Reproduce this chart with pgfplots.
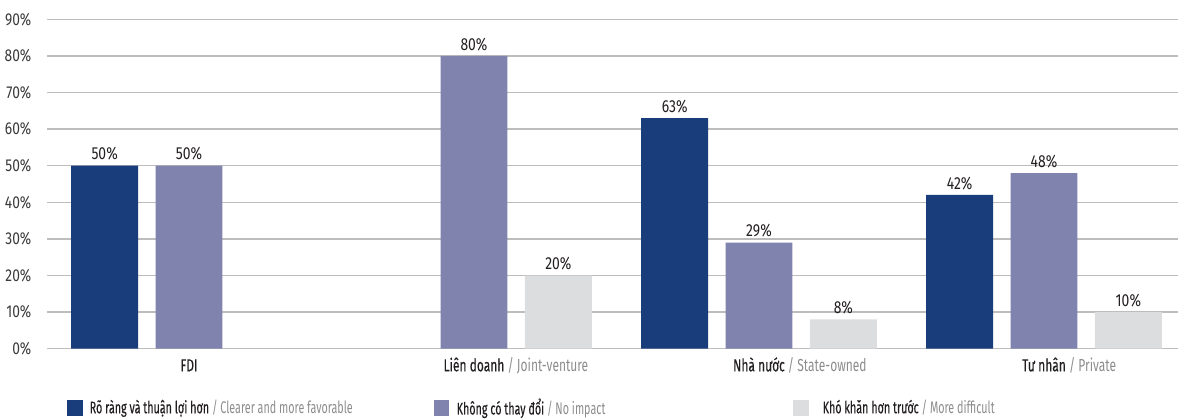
\documentclass[border=0pt]{standalone}
\usepackage{fontspec}
\setmainfont{Fira Sans}[FakeStretch=0.80]
\newfontfamily\catfont{Fira Sans}[FakeStretch=0.69]
\newfontfamily\catbold{Fira Sans}[FakeStretch=0.69, FakeBold=0.3]
\newfontfamily\legfont{Fira Sans}[FakeStretch=0.64]
\newfontfamily\legbold{Fira Sans}[FakeStretch=0.64, FakeBold=0.3]
\usepackage{pgfplots}
\usepackage{pgfplotstable}
\pgfplotsset{compat=1.18}

\definecolor{cBlue}{HTML}{193C7A}
\definecolor{cPurple}{HTML}{7F83AE}
\definecolor{cGray}{HTML}{DCDDDF}
\definecolor{cGrid}{HTML}{BDBDBD}
\definecolor{cText}{HTML}{231F20}
\definecolor{cSub}{HTML}{8C8C8C}
\definecolor{cTick}{HTML}{3A3A3A}

\newcommand\lblfont{\fontsize{8.7pt}{10pt}\selectfont}
\newcommand\tickfont{\fontsize{8.6pt}{10pt}\selectfont}
% category label: Vietnamese name, English gloss hanging to the right
\newcommand\cat[2]{{\catbold #1}\rlap{\catfont\color{cSub}\ / #2}}
% legend entry text in a box of fixed width
\newcommand\leg[3]{\makebox[#1][l]{\fontsize{8.4pt}{10pt}\selectfont{\legbold\color{cText}#2}{\legfont\color{cSub}\ / #3}}}

% share of firms by ownership type (percent)
\pgfplotstableread{
x  clear  none  hard
0  50     50    nan
1  nan    80    20
2  63     29    8
3  42     48    10
}\survey

\begin{document}
\begin{tikzpicture}
\begin{axis}[
  name=ax,
  scale only axis,
  width=565pt, height=164.7pt,
  xmin=-0.4965, xmax=3.4685,
  ymin=0, ymax=90,
  ytick={0,10,...,90},
  xtick={0,1,2,3},
  xticklabels={
    {{\catbold FDI}},
    {\cat{Liên doanh}{Joint-venture}},
    {\cat{Nhà nước}{State-owned}},
    {\cat{Tư nhân}{Private}}},
  /pgf/number format/assume math mode=true,
  yticklabel={\pgfmathprintnumber{\tick}\%},
  axis line style={draw=none},
  major tick length=0pt,
  tick style={draw=none},
  ymajorgrids,
  grid style={cGrid, line width=0.75pt},
  yticklabel style={font=\tickfont, text=cTick, anchor=east, inner sep=0pt, xshift=-7.9pt},
  xticklabel style={font=\lblfont, text=cText, anchor=base, inner sep=0pt, yshift=-11.3pt},
  ybar,
  bar width=0.235,
  nodes near coords={\pgfmathprintnumber{\pgfplotspointmeta}\%},
  every node near coord/.append style={font=\lblfont, text=cText, anchor=base, inner sep=0pt, yshift=2.9pt},
  legend columns=3,
  legend style={
    at={(axis description cs:0,0)}, anchor=west,
    xshift=9.6pt, yshift=-29.65pt,
    draw=none, fill=none, inner sep=0pt,
    font=\lblfont,
    nodes={inner sep=0pt},
    /tikz/every odd column/.append style={column sep=3.6pt},
    /tikz/every even column/.append style={column sep=0pt},
  },
  legend image code/.code={\fill[#1] (0pt,-3.8pt) rectangle (7.7pt,3.8pt);},
]
\addplot[draw=none, fill=cBlue, bar shift=-0.296] table[x=x, y=clear] {\survey};
\addlegendentry{\leg{172.2pt}{Rõ ràng và thuận lợi hơn}{Clearer and more favorable}}
\addplot[draw=none, fill=cPurple, bar shift=0] table[x=x, y=none] {\survey};
\addlegendentry{\leg{168.2pt}{Không có thay đổi}{No impact}}
\addplot[draw=none, fill=cGray, bar shift=0.296] table[x=x, y=hard] {\survey};
\addlegendentry{\hspace{3.5pt}\leg{120pt}{Khó khăn hơn trước}{More difficult}}
\end{axis}
\pgfresetboundingbox
\path[use as bounding box] ([xshift=-23.75pt,yshift=-34.65pt]ax.south west) rectangle ([xshift=0.25pt,yshift=9.65pt]ax.north east);
\end{tikzpicture}
\end{document}
